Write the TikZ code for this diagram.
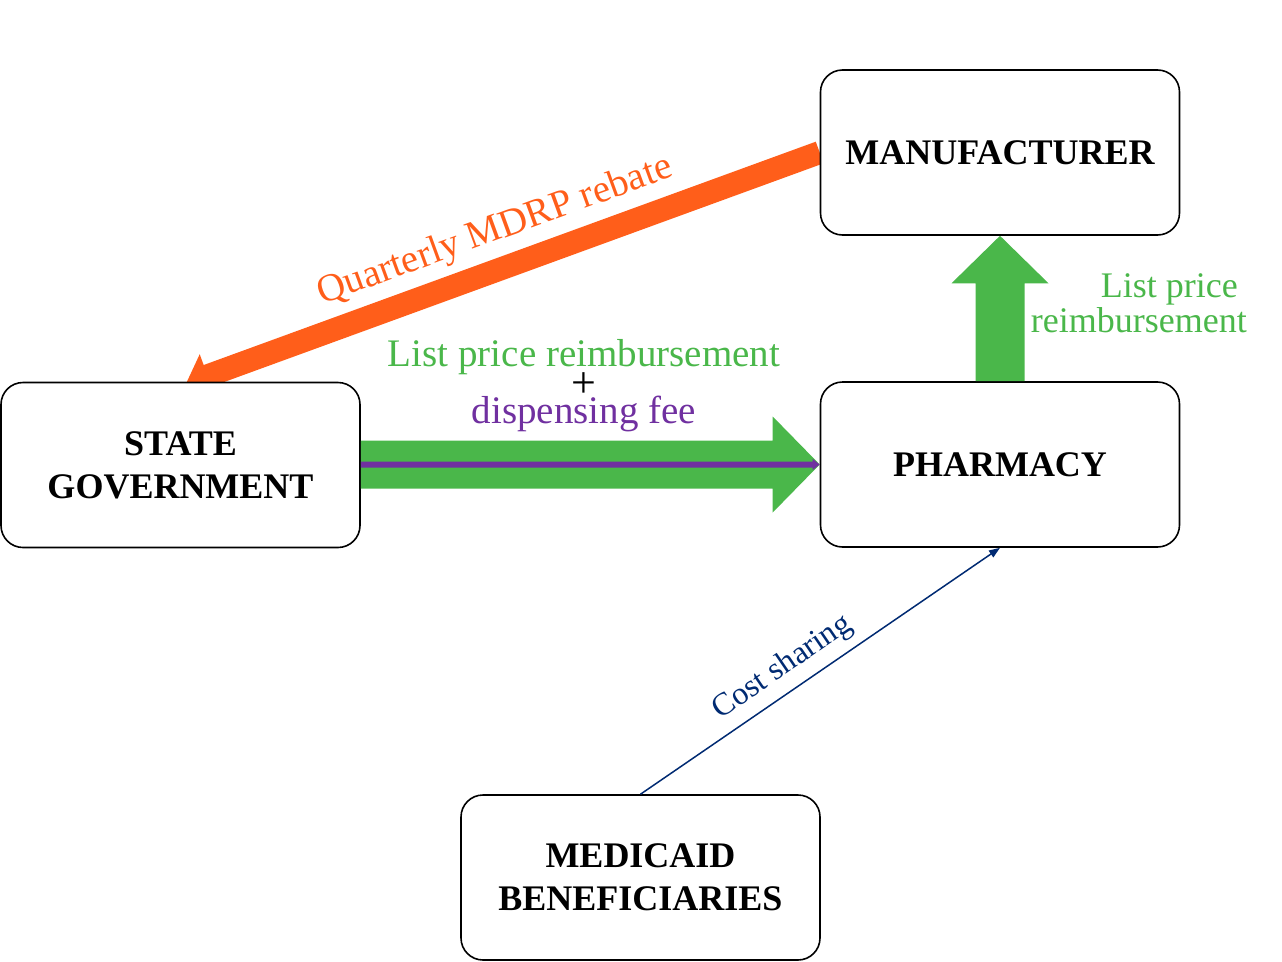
\documentclass[tikz,border=0pt]{standalone}
\usepackage{fontspec}
\setmainfont{Liberation Serif}
\usetikzlibrary{arrows.meta,calc,backgrounds}
\definecolor{morange}{HTML}{FF5E1A}
\definecolor{mgreen}{HTML}{4AB74A}
\definecolor{mpurple}{HTML}{7030A0}
\definecolor{mnavy}{HTML}{002A72}
% block arrow: #1 colour, #2 start, #3 end, #4 shaft half width, #5 head half width, #6 head length
\newcommand{\blkarrow}[6]{%
  \coordinate (bab) at ($(#3)!#6!(#2)$);
  \fill[#1] ($(#2)!#4!90:(#3)$) -- ($(bab)!#4!90:(#3)$) -- ($(bab)!#5!90:(#3)$) -- (#3)
    -- ($(bab)!#5!-90:(#3)$) -- ($(bab)!#4!-90:(#3)$) -- ($(#2)!#4!-90:(#3)$) -- cycle;}
\begin{document}
\begin{tikzpicture}[x=1pt,y=-1pt,
  box/.style={draw=black, line width=1.6pt, fill=white, rounded corners=22pt,
    minimum width=359pt, minimum height=165pt, inner sep=0pt, align=center,
    font=\fontsize{36}{43}\selectfont\bfseries},
  lbl/.style={inner sep=0pt, font=\fontsize{39}{47}\selectfont},
  sidelbl/.style={inner sep=0pt, font=\fontsize{36}{35}\selectfont, text=mgreen}]
\path[use as bounding box] (0,0) rectangle (1282,961);
\node[box] (man) at (1000,152.5) {MANUFACTURER};
\node[box] (sg) at (180.5,465) {STATE\\GOVERNMENT};
\node[box] (ph) at (1000,464.5) {PHARMACY};
\node[box] (med) at (640.5,877.5) {MEDICAID\\BENEFICIARIES};
\coordinate (tip) at ($(sg.north)+(5.5,2)$);
\coordinate (sgout) at (sg.east |- ph.west);
% orange rebate arrow, behind the boxes
\begin{scope}[on background layer]
  \blkarrow{morange}{man.west}{tip}{11.5pt}{23pt}{23pt}
\end{scope}
\path (man.west) -- node[lbl, text=morange, sloped, pos=0.492, yshift=37pt] (lq) {Quarterly MDRP rebate} (tip);
% green reimbursement arrow with purple fee line
\blkarrow{mgreen}{sgout}{ph.west}{24pt}{48pt}{47pt}
\blkarrow{mpurple}{sgout}{ph.west}{3pt}{5.5pt}{7pt}
\node[lbl, text=mgreen, anchor=base] (l1) at (584,366) {List price reimbursement};
\node[inner sep=0pt, font=\fontsize{44}{46}\selectfont] (l2) at (584,385) {+};
\node[lbl, text=mpurple, anchor=base] (l3) at (584,423) {dispensing fee};
% green arrow pharmacy -> manufacturer
\blkarrow{mgreen}{ph.north}{man.south}{24.5pt}{48.5pt}{47.5pt}
\node[sidelbl, anchor=base east] (r1) at (1238,297) {List price};
\node[sidelbl, anchor=base east] (r2) at (1247,332) {reimbursement};
% cost sharing
\draw[mnavy, line width=1.5pt, -{Triangle[length=11pt,width=8pt]}] (med.north) --
  node[sloped, pos=0.433, yshift=24pt, text=mnavy, inner sep=0pt, font=\fontsize{32}{38}\selectfont] (lc) {Cost sharing} (ph.south);
\end{tikzpicture}
\end{document}
